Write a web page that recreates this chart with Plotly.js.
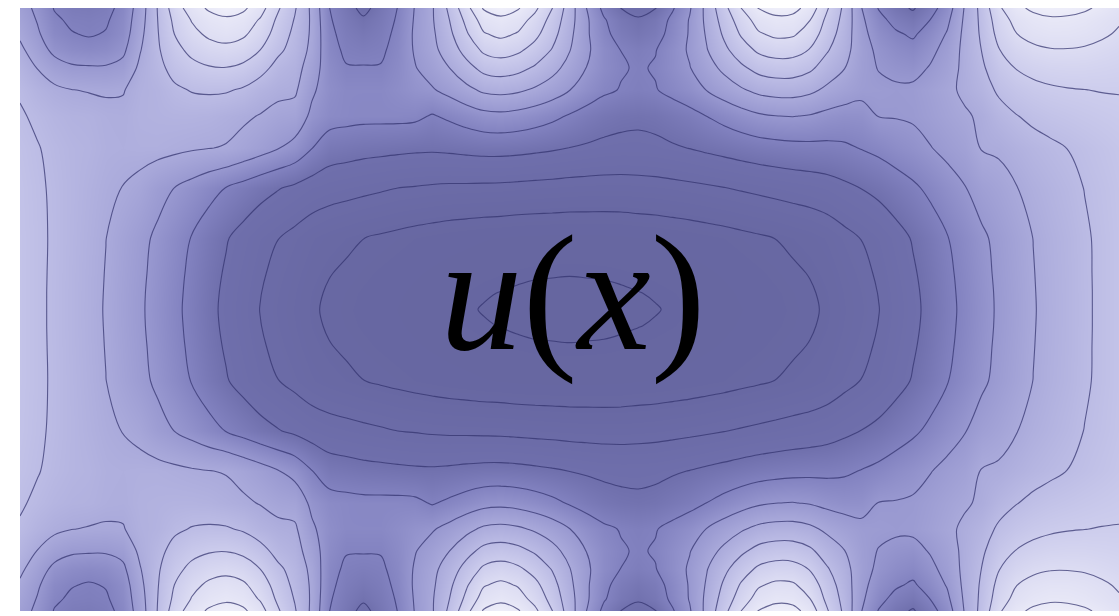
<!DOCTYPE html>
<html>
<head>
<meta charset="utf-8">
<script src="https://cdn.plot.ly/plotly-3.0.1.min.js"></script>
<style>
  html, body { margin: 0; padding: 0; background: #ffffff; }
  #chart { width: 1119px; height: 616px; }
</style>
</head>
<body>
<div id="chart"></div>
<script>
// Sample columns across the domain (same units as the plot width)
const xPos = [0, 17.2, 34.3, 51.5, 68.7, 85.9, 103.0, 120.2, 137.4, 154.5, 171.7, 188.9, 206.1, 223.2, 240.4, 257.6,
              274.8, 291.9, 309.1, 326.3, 343.4, 360.6, 377.8, 395.0, 412.1, 429.3, 446.5, 463.7, 480.8, 498.0, 515.2, 532.3,
              549.5, 566.7, 583.9, 601.0, 618.2, 635.4, 652.6, 669.7, 686.9, 704.1, 721.3, 738.4, 755.6, 772.8, 789.9, 807.1,
              824.3, 841.5, 858.6, 875.8, 893.0, 910.2, 927.3, 944.5, 961.7, 978.8, 996.0, 1013.2, 1030.4, 1047.5, 1064.7, 1081.9, 1099];

// Depth of each sampled row below the upper edge; the lower half mirrors these rows
const rowDepth = [0, 12, 26, 42, 60, 82, 108, 140, 180, 230, 265, 285, 301.5];
const domainHeight = 603;

// Field values u along each row, from the upper edge down to the middle line
const u_d000 = [6.4, 5.8, 4.95, 4.65, 4.6, 4.75, 5.25, 6.5, 8.02, 9.5, 10.5, 11.15, 11.45, 11.2, 10.4, 9.15, 8.1, 6.8, 5.02, 4.4,
  3.7, 4.4, 5.02, 6.05, 6.9, 8.2, 9.7, 11.1, 11.5, 11.1, 10.2, 9.02, 7.5, 5.98, 4.75, 3.98, 3.6, 3.95, 4.9, 5.9,
  7.3, 8.7, 10.02, 11.05, 11.45, 11.35, 10.6, 9.1, 7.8, 6.02, 4.95, 4.3, 3.9, 4.6, 5.5, 7.05, 8.3, 9.85, 10.75, 11.2,
  11.4, 11.35, 11.15, 10.8, 10.4];
const u_d012 = [6.62, 5.95, 5.15, 4.85, 4.8, 4.9, 5.38, 6.6, 7.98, 9.22, 10.05, 10.58, 10.82, 10.59, 9.90, 8.84, 7.94, 6.85, 5.1, 4.55,
  4.15, 4.55, 5.1, 6.1, 6.90, 7.99, 9.25, 10.43, 10.76, 10.43, 9.67, 8.66, 7.40, 6.14, 5.09, 4.46, 4.13, 4.42, 5.22, 6.06,
  7.24, 8.41, 9.50, 10.38, 10.72, 10.64, 10.02, 8.77, 7.69, 6.18, 5.27, 4.72, 4.40, 5.01, 5.80, 7.14, 8.22, 9.52, 10.28, 10.67,
  10.84, 10.81, 10.66, 10.39, 10.09];
const u_d026 = [6.85, 6.15, 5.35, 5.05, 4.92, 5.05, 5.5, 6.75, 7.93, 9.01, 9.73, 10.18, 10.37, 10.16, 9.53, 8.58, 7.77, 6.85, 5.2, 4.7,
  4.45, 4.7, 5.2, 6.15, 6.82, 7.78, 8.89, 9.92, 10.21, 9.92, 9.25, 8.36, 7.25, 6.14, 5.22, 4.66, 4.37, 4.63, 5.33, 6.08,
  7.12, 8.15, 9.11, 9.89, 10.19, 10.13, 9.58, 8.49, 7.55, 6.29, 5.55, 5.12, 4.87, 5.40, 6.08, 7.22, 8.14, 9.29, 9.97, 10.32,
  10.48, 10.47, 10.35, 10.14, 9.89];
const u_d042 = [7.2, 6.5, 5.75, 5.45, 5.35, 5.45, 5.8, 6.95, 7.86, 8.70, 9.25, 9.59, 9.72, 9.52, 8.99, 8.21, 7.65, 6.75, 5.3, 4.85,
  4.75, 4.85, 5.3, 6.1, 6.72, 7.48, 8.36, 9.18, 9.42, 9.18, 8.64, 7.94, 7.05, 6.17, 5.43, 4.99, 4.76, 4.96, 5.53, 6.12,
  6.96, 7.78, 8.54, 9.17, 9.42, 9.37, 8.95, 8.09, 7.37, 6.38, 5.81, 5.48, 5.30, 5.76, 6.33, 7.26, 8.02, 8.96, 9.50, 9.80,
  9.94, 9.95, 9.89, 9.75, 9.60];
const u_d060 = [7.55, 6.98, 6.45, 6.15, 6.1, 6.1, 6.3, 7.2, 7.71, 8.32, 8.71, 8.92, 8.97, 8.78, 8.33, 7.70, 7.4, 6.5, 5.45, 5.05,
  5.05, 5.05, 5.4, 5.95, 6.42, 6.99, 7.67, 8.29, 8.46, 8.28, 7.87, 7.33, 6.65, 5.98, 5.42, 5.08, 4.91, 5.07, 5.51, 5.96,
  6.60, 7.23, 7.82, 8.31, 8.51, 8.49, 8.18, 7.55, 7.03, 6.34, 5.96, 5.78, 5.69, 6.07, 6.53, 7.24, 7.84, 8.58, 9.03, 9.28,
  9.42, 9.46, 9.45, 9.39, 9.32];
const u_d082 = [7.9, 7.5, 7.2, 7.02, 6.95, 6.9, 6.95, 7.35, 7.49, 7.84, 8.05, 8.12, 8.09, 7.89, 7.51, 7.25, 7.15, 6.15, 5.55, 5.3,
  5.3, 5.3, 5.5, 5.75, 5.91, 6.30, 6.75, 7.17, 7.28, 7.15, 6.86, 6.49, 6.02, 5.56, 5.17, 4.95, 4.83, 4.95, 5.26, 5.58,
  6.03, 6.47, 6.89, 7.24, 7.39, 7.40, 7.21, 6.81, 6.50, 6.24, 6.2, 6.13, 6.19, 6.45, 6.77, 7.19, 7.58, 8.15, 8.50, 8.73,
  8.87, 8.95, 8.99, 9.03, 9.04];
const u_d108 = [8.1, 7.85, 7.6, 7.45, 7.4, 7.25, 7.2, 7.4, 7.45, 7.5, 7.5, 7.45, 7.3, 7.15, 6.95, 6.7, 6.6, 5.8, 5.4, 5.3,
  5.25, 5.25, 5.25, 5.2, 4.93, 5.16, 5.44, 5.69, 5.76, 5.66, 5.47, 5.22, 4.92, 4.62, 4.38, 4.24, 4.18, 4.26, 4.48, 4.70,
  5.01, 5.31, 5.61, 5.86, 5.99, 6.03, 5.94, 5.74, 5.62, 5.66, 6.02, 6.05, 6.11, 6.34, 6.61, 6.87, 7.16, 7.63, 7.96, 8.21,
  8.38, 8.51, 8.63, 8.73, 8.82];
const u_d140 = [8.28, 8.05, 7.8, 7.6, 7.5, 7.3, 7.25, 7.3, 7.3, 7.2, 7.1, 7.02, 6.95, 6.7, 6.4, 6.05, 5.7, 5.02, 4.5, 4.4,
  4.3, 4.25, 4.2, 4.15, 4.13, 4.18, 4.25, 4.31, 4.32, 4.27, 4.19, 4.10, 3.99, 3.89, 3.81, 3.77, 3.77, 3.81, 3.91, 4.02,
  4.16, 4.29, 4.43, 4.56, 4.65, 4.72, 4.76, 4.78, 4.86, 5.04, 5.23, 5.48, 5.69, 5.96, 6.25, 6.52, 7.05, 7.13, 7.39, 7.64,
  7.83, 8.01, 8.20, 8.38, 8.56];
const u_d180 = [8.37, 8.13, 7.88, 7.62, 7.39, 7.15, 6.98, 6.75, 6.31, 5.99, 5.67, 5.31, 4.97, 4.65, 4.33, 4.06, 3.82, 3.56, 3.4, 3.3,
  3.2, 3.1, 3.0, 2.95, 2.89, 2.85, 2.84, 2.82, 2.80, 2.76, 2.72, 2.69, 2.65, 2.63, 2.61, 2.61, 2.64, 2.68, 2.74, 2.81,
  2.89, 2.98, 3.08, 3.18, 3.28, 3.38, 3.47, 3.60, 3.81, 4.02, 4.24, 4.53, 4.84, 5.20, 5.59, 5.95, 6.40, 6.66, 6.96, 7.28,
  7.52, 7.76, 8.02, 8.23, 8.45];
const u_d230 = [8.40, 8.16, 7.90, 7.60, 7.32, 7.01, 6.62, 6.24, 5.84, 5.40, 4.96, 4.49, 4.07, 3.68, 3.30, 3.02, 2.75, 2.46, 2.27, 2.14,
  2.01, 1.90, 1.80, 1.70, 1.62, 1.54, 1.48, 1.42, 1.39, 1.34, 1.32, 1.31, 1.30, 1.31, 1.32, 1.34, 1.39, 1.42, 1.48, 1.54,
  1.62, 1.70, 1.80, 1.90, 2.01, 2.14, 2.27, 2.46, 2.75, 3.02, 3.30, 3.68, 4.07, 4.49, 4.96, 5.40, 5.84, 6.24, 6.62, 7.01,
  7.32, 7.60, 7.90, 8.16, 8.40];
const u_d265 = [8.40, 8.15, 7.89, 7.58, 7.29, 6.97, 6.56, 6.17, 5.74, 5.28, 4.82, 4.33, 3.90, 3.50, 3.10, 2.81, 2.53, 2.23, 2.03, 1.90,
  1.77, 1.65, 1.55, 1.44, 1.35, 1.27, 1.21, 1.15, 1.11, 1.07, 1.04, 1.03, 1.02, 1.03, 1.04, 1.07, 1.11, 1.15, 1.21, 1.27,
  1.35, 1.44, 1.55, 1.65, 1.77, 1.90, 2.03, 2.23, 2.53, 2.81, 3.10, 3.50, 3.90, 4.33, 4.82, 5.28, 5.74, 6.17, 6.56, 6.97,
  7.29, 7.58, 7.89, 8.15, 8.40];
const u_d285 = [8.40, 8.15, 7.88, 7.57, 7.28, 6.95, 6.53, 6.13, 5.70, 5.23, 4.77, 4.27, 3.82, 3.42, 3.02, 2.72, 2.44, 2.13, 1.93, 1.79,
  1.66, 1.54, 1.44, 1.33, 1.24, 1.16, 1.09, 1.03, 0.99, 0.95, 0.92, 0.91, 0.90, 0.91, 0.92, 0.95, 0.99, 1.03, 1.09, 1.16,
  1.24, 1.33, 1.44, 1.54, 1.66, 1.79, 1.93, 2.13, 2.44, 2.72, 3.02, 3.42, 3.82, 4.27, 4.77, 5.23, 5.70, 6.13, 6.53, 6.95,
  7.28, 7.57, 7.88, 8.15, 8.40];
const u_mid = [8.40, 8.15, 7.88, 7.57, 7.27, 6.94, 6.52, 6.12, 5.68, 5.21, 4.74, 4.24, 3.79, 3.38, 2.98, 2.68, 2.40, 2.09, 1.89, 1.75,
  1.62, 1.50, 1.39, 1.28, 1.19, 1.11, 1.04, 0.98, 0.94, 0.90, 0.87, 0.855, 0.85, 0.855, 0.87, 0.90, 0.94, 0.98, 1.04, 1.11,
  1.19, 1.28, 1.39, 1.50, 1.62, 1.75, 1.89, 2.09, 2.40, 2.68, 2.98, 3.38, 3.79, 4.24, 4.74, 5.21, 5.68, 6.12, 6.52, 6.94,
  7.27, 7.57, 7.88, 8.15, 8.40];

// Contour levels of u
const levelStart = 1;
const levelEnd = 11;
const levelStep = 1;

// The field is mirror-symmetric about the middle line: stack the upper rows, then reflect them
const upperRows = [u_d000, u_d012, u_d026, u_d042, u_d060, u_d082, u_d108,
                   u_d140, u_d180, u_d230, u_d265, u_d285, u_mid];
const zGrid = upperRows.concat(upperRows.slice(0, -1).reverse());
const yGrid = rowDepth.concat(rowDepth.slice(0, -1).reverse().map(d => domainHeight - d));

const purples = [
  [0.000, 'rgb(102,102,160)'],
  [0.111, 'rgb(104,104,163)'],
  [0.296, 'rgb(111,111,172)'],
  [0.389, 'rgb(130,130,192)'],
  [0.481, 'rgb(152,152,208)'],
  [0.574, 'rgb(170,170,219)'],
  [0.667, 'rgb(188,188,229)'],
  [0.759, 'rgb(205,205,237)'],
  [0.852, 'rgb(221,221,243)'],
  [1.000, 'rgb(240,240,250)']
];

const trace = {
  type: 'contour',
  x: xPos,
  y: yGrid,
  z: zGrid,
  zmin: 0.8,
  zmax: 11.6,
  colorscale: purples,
  showscale: false,
  hoverinfo: 'skip',
  contours: {
    start: levelStart,
    end: levelEnd,
    size: levelStep,
    coloring: 'heatmap',
    showlines: true
  },
  line: { color: 'rgba(50,50,110,0.72)', width: 1.1, smoothing: 1.0 }
};

const layout = {
  width: 1119,
  height: 616,
  margin: { l: 20, r: 0, t: 8, b: 5 },
  paper_bgcolor: '#ffffff',
  plot_bgcolor: '#ffffff',
  showlegend: false,
  xaxis: { range: [0, 1099], visible: false, fixedrange: true },
  yaxis: { range: [domainHeight, 0], visible: false, fixedrange: true },
  annotations: [{
    xref: 'paper', yref: 'paper',
    x: 0.503, y: 0.527,
    xanchor: 'center', yanchor: 'middle',
    text: '<i>u</i>(<i>x</i>)',
    showarrow: false,
    font: { family: 'Liberation Serif', size: 165, color: '#000000' }
  }]
};

Plotly.newPlot('chart', [trace], layout, { displayModeBar: false, staticPlot: true });
</script>
</body>
</html>
